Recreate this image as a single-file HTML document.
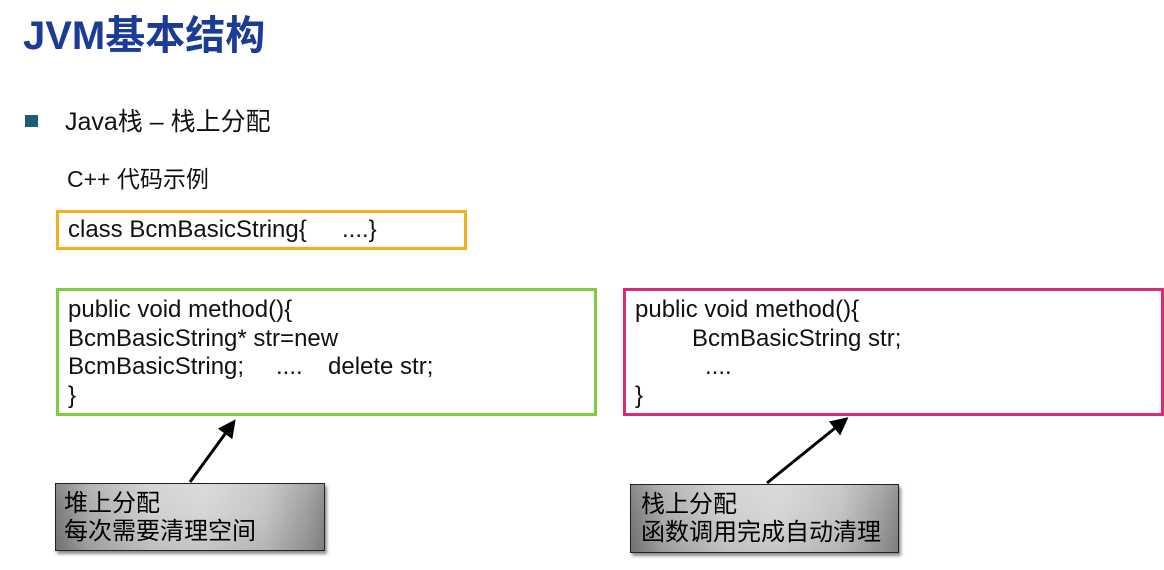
<!DOCTYPE html>
<html><head><meta charset="utf-8"><style>
html,body{margin:0;padding:0;background:#fff;}
body{width:1164px;height:570px;position:relative;overflow:hidden;font-family:"Liberation Sans","Noto Sans CJK SC",sans-serif;color:#111;}
.a{position:absolute;white-space:pre;}
.title{left:23px;top:13px;font-size:40px;font-weight:bold;color:#1b3c96;line-height:46px;}
.bullet{left:25px;top:115px;width:13px;height:12px;background:#1b5d74;}
.box{position:absolute;box-sizing:border-box;background:#fff;}
.code{font-size:24px;line-height:28.5px;}
.call{position:absolute;box-sizing:border-box;border:1px solid #222;background:linear-gradient(to bottom,rgba(255,255,255,0.12) 0%,rgba(255,255,255,0) 45%,rgba(0,0,0,0.08) 100%),linear-gradient(to right,#7a7a7a 0%,#aaaaaa 12%,#cfcfcf 35%,#d6d6d6 55%,#c4c4c4 78%,#9a9a9a 95%,#888 100%);box-shadow:2px 3px 3px rgba(0,0,0,0.45);}
.ct{font-size:24px;line-height:28px;color:#000;}
</style></head><body>
<div class="a title">JVM基本结构</div>
<div class="a bullet"></div>
<div class="a" style="left:65px;top:108px;font-size:25px;line-height:28px;">Java栈 – 栈上分配</div>
<div class="a" style="left:67px;top:166px;font-size:23px;line-height:26px;">C++ 代码示例</div>

<div class="box" style="left:56px;top:210px;width:411px;height:40px;border:3px solid #f1b31d;"></div>
<div class="a code" style="left:68px;top:216px;">class BcmBasicString{</div>
<div class="a code" style="left:342px;top:216px;">....}</div>

<div class="box" style="left:56px;top:288px;width:541px;height:128px;border:3px solid #7dcd3d;"></div>
<div class="a code" style="left:68px;top:296px;">public void method(){</div>
<div class="a code" style="left:68px;top:324.5px;">BcmBasicString* str=new</div>
<div class="a code" style="left:68px;top:353px;">BcmBasicString;</div>
<div class="a code" style="left:276px;top:353px;">....</div>
<div class="a code" style="left:328px;top:353px;">delete str;</div>
<div class="a code" style="left:68px;top:381.5px;">}</div>

<div class="box" style="left:623px;top:288px;width:541px;height:128px;border:3px solid #dc2a78;"></div>
<div class="a code" style="left:635px;top:296px;">public void method(){</div>
<div class="a code" style="left:692px;top:324.5px;">BcmBasicString str;</div>
<div class="a code" style="left:705px;top:353px;">....</div>
<div class="a code" style="left:635px;top:381.5px;">}</div>

<svg class="a" style="left:0;top:0;" width="1164" height="570">
<defs><marker id="ah" markerWidth="6" markerHeight="6" refX="4.5" refY="3" orient="auto" markerUnits="strokeWidth"><path d="M0,0 L6,3 L0,6 Z" fill="#000"/></marker></defs>
<line x1="190" y1="482" x2="233" y2="423" stroke="#000" stroke-width="3" marker-end="url(#ah)"/>
<line x1="767" y1="483" x2="845" y2="420" stroke="#000" stroke-width="3" marker-end="url(#ah)"/>
</svg>

<div class="call" style="left:55px;top:483px;width:270px;height:68px;"></div>
<div class="a ct" style="left:64px;top:490px;">堆上分配</div>
<div class="a ct" style="left:64px;top:518px;">每次需要清理空间</div>

<div class="call" style="left:630px;top:484px;width:269px;height:69px;"></div>
<div class="a ct" style="left:641px;top:491px;">栈上分配</div>
<div class="a ct" style="left:641px;top:519px;">函数调用完成自动清理</div>
</body></html>
